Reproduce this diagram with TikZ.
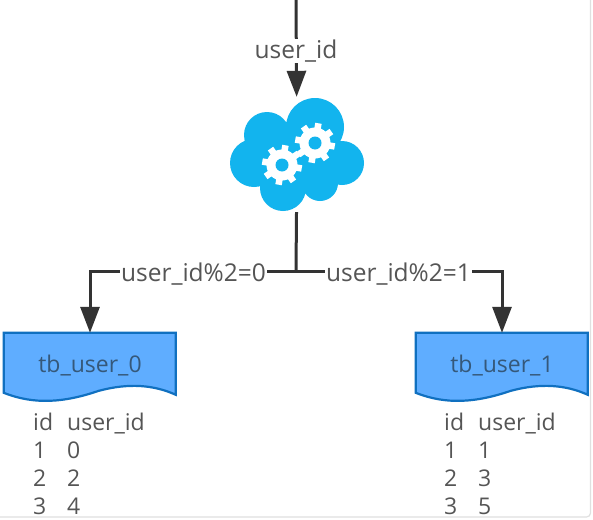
\documentclass[tikz,border=0pt]{standalone}
\usepackage{fontspec}
\usepackage{array}
\setmainfont{Open Sans}
\usetikzlibrary{arrows.meta,backgrounds}
\definecolor{cloudblue}{HTML}{12B4EE}
\definecolor{docfill}{HTML}{5FADFF}
\definecolor{docline}{HTML}{1070C0}
\definecolor{doctext}{HTML}{35587A}
\definecolor{lblgrey}{HTML}{555555}
\definecolor{linedark}{HTML}{333333}
% document shape behind a named node
\newcommand{\docshape}[1]{
  \begin{scope}[shift={(#1.north west)}]
    \draw[docbg] (0,0) -- (172,0) -- (172,62)
      .. controls (150,52) and (125,50) .. (95,58)
      .. controls (60,70) and (30,72) .. (0,60) -- cycle;
  \end{scope}
}
% gear with 8 teeth
\newcommand{\gearshape}[2]{
  \foreach \a in {0,45,...,315}
    \draw[white,line width=6.5pt] (#1,#2) -- ++(\a+10:20);
  \fill[white] (#1,#2) circle (15.5);
  \fill[cloudblue] (#1,#2) circle (6.5);
}
\begin{document}
\begin{tikzpicture}[
  x=1pt,y=-1pt,
  lbl/.style={font=\fontsize{24.5}{25}\selectfont,text=lblgrey,fill=white,inner xsep=1pt,inner ysep=1pt},
  doc/.style={minimum width=172pt,minimum height=66pt,inner sep=0pt,
              font=\fontsize{23}{24}\selectfont,text=doctext},
  docbg/.style={draw=docline,fill=docfill,line width=2.2pt,line join=miter},
  rows/.style={anchor=north west,inner sep=0pt,text=lblgrey},
  wire/.style={draw=linedark,line width=3pt},
  arr/.style={wire,-{Triangle[length=26pt,width=19pt]}}
]
\useasboundingbox (0,0) rectangle (593,519);

\coordinate (in) at (296,0);
\coordinate (split) at (296,271);
\node[minimum width=134pt,minimum height=115pt,inner sep=0pt] (router) at (297,154.5) {};
\node[doc] (tb0) at (90,366) {tb\_user\_0};
\node[doc] (tb1) at (502,366) {tb\_user\_1};

% cloud
\fill[cloudblue] (315,127) circle (29) (267,135) circle (23) (254,163) circle (24)
  (342,163) circle (22) (283,188) circle (23) (320,183) circle (18);
\fill[cloudblue] (258,135) rectangle (335,182);
\gearshape{282}{165}
\gearshape{315}{143}

\begin{scope}[on background layer]
  \fill[white] (0,0) rectangle (593,519);
  \draw[black!12,line width=1.2pt,rounded corners=4pt] (-5,-5) rectangle (590.5,517);
  \docshape{tb0}
  \docshape{tb1}
\end{scope}

\draw[arr] (in) -- (router);
\draw[wire] (router) -- (split);
\draw[arr] (split) -| (tb0);
\draw[arr] (split) -| (tb1);

\node[lbl] (lin) at (296,51) {user\_id};
\node[lbl] (l0) at (193.5,274) {user\_id\%2=0};
\node[lbl] (l1) at (398.5,274) {user\_id\%2=1};

\node[rows] (rows0) at (33,411) {\fontsize{23}{28}\selectfont
  \begin{tabular}{@{}p{34pt}@{}l@{}}id&user\_id\\1&0\\2&2\\3&4\end{tabular}};
\node[rows] (rows1) at (444,411) {\fontsize{23}{28}\selectfont
  \begin{tabular}{@{}p{34pt}@{}l@{}}id&user\_id\\1&1\\2&3\\3&5\end{tabular}};
\end{tikzpicture}
\end{document}
